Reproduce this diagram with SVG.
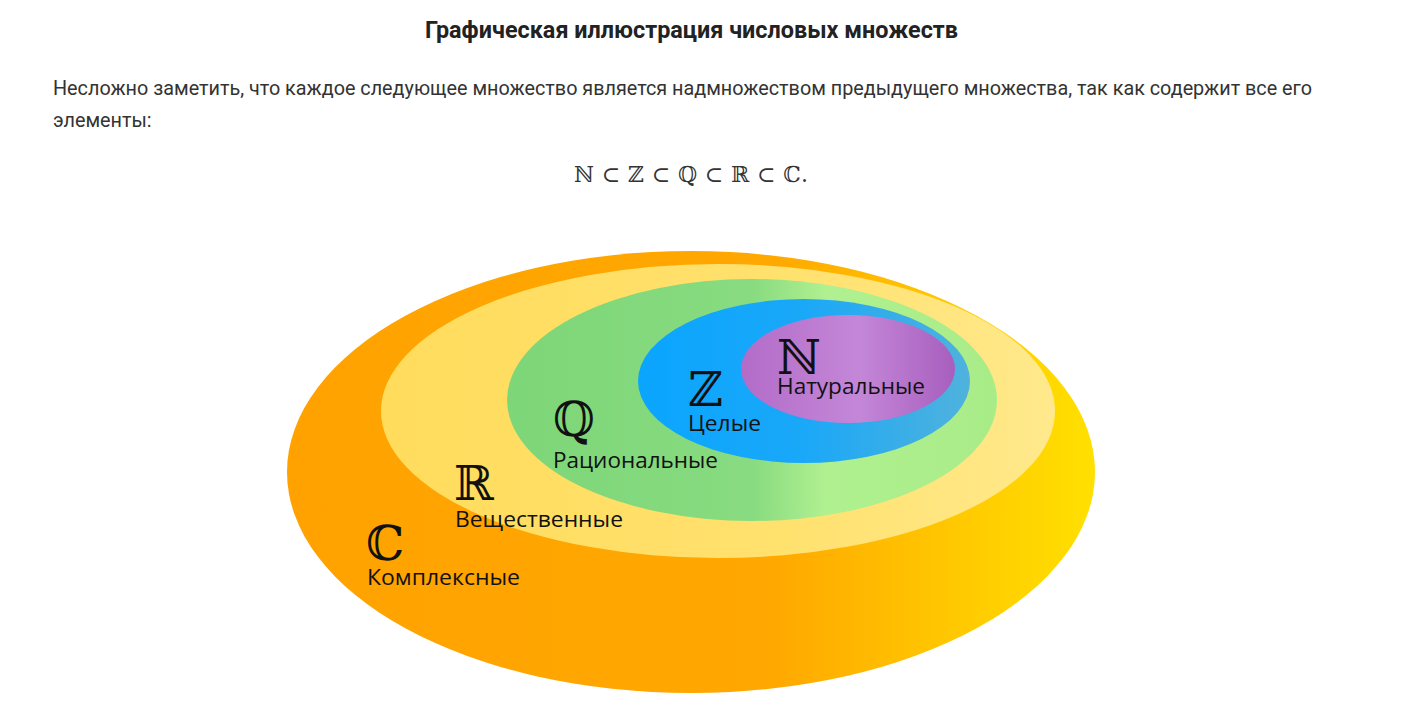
<svg xmlns="http://www.w3.org/2000/svg" width="1404" height="709" viewBox="0 0 1404 709">
<style>
.title{font-family:Roboto,"Liberation Sans",sans-serif;font-weight:bold;font-size:23px;fill:#222}
.para{font-family:Roboto,"Liberation Sans",sans-serif;font-size:19.8px;fill:#333}
.formula{font-family:"DejaVu Serif","Liberation Serif",serif;font-size:22px;fill:#333}
.lbl{font-family:"Open Sans","Noto Sans",sans-serif;font-size:21px;fill:#111}
.sym{font-family:"DejaVu Serif","Liberation Serif",serif;font-size:48px;fill:#111}
</style>
<defs>
<linearGradient id="gC" x1="0" y1="0" x2="1" y2="0">
<stop offset="0" stop-color="#FFA200"/><stop offset="0.6" stop-color="#FFA800"/><stop offset="0.85" stop-color="#FFCC00"/><stop offset="1" stop-color="#FFE000"/>
</linearGradient>
<linearGradient id="gR" x1="0" y1="0" x2="1" y2="0">
<stop offset="0" stop-color="#FFDC5C"/><stop offset="0.6" stop-color="#FFE16E"/><stop offset="1" stop-color="#FFE98C"/>
</linearGradient>
<linearGradient id="gQ" x1="0" y1="0" x2="1" y2="0">
<stop offset="0" stop-color="#7DD678"/><stop offset="0.5" stop-color="#88DB80"/><stop offset="0.65" stop-color="#B0F090"/><stop offset="1" stop-color="#A8EC88"/>
</linearGradient>
<linearGradient id="gZ" x1="0" y1="0" x2="1" y2="0">
<stop offset="0" stop-color="#0AA5FF"/><stop offset="0.5" stop-color="#1AA8F8"/><stop offset="1" stop-color="#50B2DC"/>
</linearGradient>
<linearGradient id="gN" x1="0" y1="0" x2="1" y2="0">
<stop offset="0" stop-color="#B26CC8"/><stop offset="0.55" stop-color="#C487D8"/><stop offset="1" stop-color="#A75FBE"/>
</linearGradient>
</defs>
<text class="title" x="425" y="38" textLength="533" lengthAdjust="spacingAndGlyphs">Графическая иллюстрация числовых множеств</text>
<text class="para" x="53" y="95" textLength="1259" lengthAdjust="spacingAndGlyphs">Несложно заметить, что каждое следующее множество является надмножеством предыдущего множества, так как содержит все его</text>
<text class="para" x="53" y="127">элементы:</text>
<text class="formula" x="574" y="182" textLength="234" lengthAdjust="spacing">ℕ ⊂ ℤ ⊂ ℚ  ⊂ ℝ  ⊂ ℂ.</text>
<g id="set-C">
<ellipse cx="691" cy="472" rx="404" ry="221" fill="url(#gC)"/>
<text class="sym" x="366" y="560">ℂ</text>
<text class="lbl" x="367" y="585" textLength="153" lengthAdjust="spacingAndGlyphs">Комплексные</text>
</g>
<g id="set-R">
<ellipse cx="718" cy="411" rx="337" ry="147" fill="url(#gR)"/>
<text class="sym" x="454" y="500">ℝ</text>
<text class="lbl" x="455" y="527" textLength="168" lengthAdjust="spacingAndGlyphs">Вещественные</text>
</g>
<g id="set-Q">
<ellipse cx="752" cy="400" rx="245" ry="121" fill="url(#gQ)"/>
<text class="sym" x="553" y="436">ℚ</text>
<text class="lbl" x="553" y="468" textLength="165" lengthAdjust="spacingAndGlyphs">Рациональные</text>
</g>
<g id="set-Z">
<ellipse cx="804" cy="381" rx="166" ry="82" fill="url(#gZ)"/>
<text class="sym" x="688" y="406">ℤ</text>
<text class="lbl" x="688" y="431" textLength="73" lengthAdjust="spacingAndGlyphs">Целые</text>
</g>
<g id="set-N">
<ellipse cx="848" cy="369" rx="107" ry="54" fill="url(#gN)"/>
<text class="sym" x="777" y="374">ℕ</text>
<text class="lbl" x="777" y="394" textLength="148" lengthAdjust="spacingAndGlyphs">Натуральные</text>
</g>
<g id="connectors"/>
</svg>
